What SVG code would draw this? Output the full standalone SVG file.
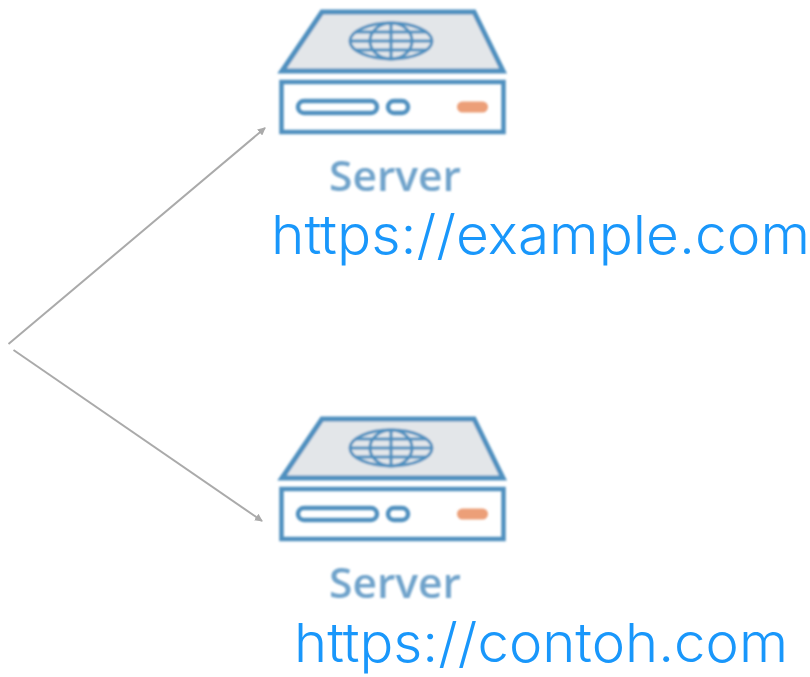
<svg xmlns="http://www.w3.org/2000/svg" width="810" height="677" viewBox="0 0 810 677">
<style>
.o{fill:none;stroke:#4f90bf;stroke-width:4.500;stroke-linejoin:miter}
.t{fill:#e3e6e9;stroke:#4f90bf;stroke-width:5}
.g{fill:none;stroke:#4f90bf;stroke-width:3}
.s{font-family:"Open Sans","Liberation Sans",sans-serif;font-size:41px;font-weight:600;fill:#6fa3cb}
.u{font-family:Inter,"Liberation Sans",sans-serif;font-weight:300;fill:#1997fb}
.c{fill:none;stroke:#aaaaaa;stroke-width:2}
</style>
<defs>
<filter id="b" x="-5%" y="-5%" width="110%" height="110%"><feGaussianBlur stdDeviation="0.8"/></filter>
<marker id="a" viewBox="0 0 8 8" refX="7" refY="4" markerWidth="4" markerHeight="4" orient="auto" markerUnits="strokeWidth"><path d="M0 0L8 4L0 8z" fill="#aaaaaa"/></marker>
<g id="icon" filter="url(#b)">
<path class="t" d="M322 12H474L503 71H282Z"/>
<ellipse class="g" cx="391" cy="41" rx="41" ry="18"/>
<ellipse class="g" cx="391" cy="41" rx="21" ry="18"/>
<path class="g" d="M391 23V59M351 41H431M356 32H426M356 50H426"/>
<rect class="o" x="281.500" y="82" width="222" height="50"/>
<rect class="o" x="298" y="101" width="79" height="12" rx="6"/>
<rect class="o" x="388" y="101" width="20" height="12" rx="6"/>
<rect x="457" y="101.500" width="31" height="11" rx="5.500" fill="#ec9f78"/>
<text class="s" x="329" y="191" textLength="132" lengthAdjust="spacingAndGlyphs">Server</text>
</g>
</defs>
<g id="connectors">
<path class="c" d="M8.500 344L265 128" marker-end="url(#a)"/>
<path class="c" d="M13.500 350L262 521" marker-end="url(#a)"/>
</g>
<g id="server-1"><use href="#icon"/>
<text class="u" x="271" y="254" font-size="54" textLength="539" lengthAdjust="spacingAndGlyphs">https://example.com</text></g>
<g id="server-2"><use href="#icon" y="407"/>
<text class="u" x="294" y="662" font-size="54" textLength="494" lengthAdjust="spacingAndGlyphs">https://contoh.com</text></g>
</svg>
